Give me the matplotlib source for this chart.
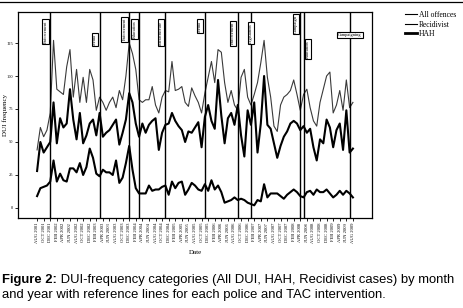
import numpy as np
import pandas as pd
import matplotlib
matplotlib.use("Agg")
import matplotlib.pyplot as plt
from matplotlib.lines import Line2D

# monthly counts, AUG 2001 .. AUG 2009
all_offences = [44, 61, 54, 59, 72, 127, 90, 88, 86, 107, 120, 84, 105, 80, 99, 80, 105, 97, 74, 84,
                80, 74, 80, 84, 76, 89, 82, 100, 125, 117, 105, 82, 80, 82, 82, 92, 78, 72,
                84, 89, 88, 111, 89, 90, 92, 80, 77, 91, 85, 80, 72, 87, 99, 111, 95, 120, 118, 95,
                80, 89, 78, 74, 99, 105, 84, 78, 86, 95, 110, 127, 99, 84, 62, 58, 78, 84, 86, 89,
                97, 86, 74, 86, 90, 76, 66, 62, 80, 90, 100, 103, 72, 78, 89, 74, 97, 76, 80]
recidivist = [28, 50, 42, 46, 50, 80, 49, 68, 61, 64, 90, 67, 52, 72, 49, 55, 64, 67, 55, 72,
              54, 57, 59, 63, 67, 48, 57, 67, 87, 80, 64, 54, 64, 57, 63, 66, 68, 44,
              57, 63, 64, 72, 66, 62, 59, 50, 58, 57, 61, 65, 46, 69, 78, 66, 60, 97, 70, 49,
              68, 72, 63, 78, 55, 39, 74, 63, 80, 42, 64, 100, 63, 60, 49, 38, 47, 54, 58, 64,
              66, 64, 59, 62, 57, 60, 46, 36, 52, 49, 67, 61, 46, 59, 64, 44, 74, 42, 45]
hah = [9, 15, 16, 17, 20, 36, 20, 26, 21, 20, 30, 30, 27, 34, 25, 31, 45, 38, 26, 24,
       29, 27, 27, 25, 36, 19, 23, 34, 47, 29, 15, 11, 11, 11, 17, 13, 14, 14,
       16, 17, 10, 20, 15, 19, 20, 10, 14, 19, 17, 14, 13, 18, 13, 21, 14, 17, 12, 4,
       5, 6, 8, 6, 7, 6, 4, 3, 2, 6, 5, 18, 8, 11, 11, 11, 9, 7, 10, 12,
       14, 12, 9, 8, 12, 13, 10, 14, 12, 12, 14, 11, 8, 10, 13, 10, 13, 11, 8]

months = pd.date_range("2001-08-01", "2009-08-01", freq="MS")
month_labels = [d.strftime("%b %Y").upper() for d in months]

# intervention reference lines (month index) and their labels
ref_months = [4, 19, 28, 31, 39, 51, 61, 65, 80, 81, 95]
ref_labels = ["Enforcement", "Media", "Enforcement", "Education", "Infrastructure", "Media",
              "Enforcement", "Legislation", "Campaign", "Education", "Campaigning"]

serif = "Liberation Serif"

fig = plt.figure(figsize=(4.63, 3.08), dpi=100)
ax = fig.add_axes([18 / 463, 1 - 218 / 308, (372 - 18) / 463, (218 - 12) / 308])

x = np.arange(len(months))
ax.plot(x, all_offences, color="#3a3a3a", lw=0.8, label="All offences")
ax.plot(x, recidivist, color="black", lw=1.5, label="Recidivist")
ax.plot(x, hah, color="black", lw=1.5, label="HAH")

ax.set_xlim(-5.8, 101.8)
ax.set_ylim(-7.6, 148.5)

# reference lines + boxed labels
box = dict(boxstyle="square,pad=0.25", fc="white", ec="black", lw=0.8)
top_y = [142, 132, 144, 142, 142, 142, 141, 140, 146, 127, 131]
for m, lab, ty in zip(ref_months, ref_labels, top_y):
    ax.axvline(m, color="black", lw=1.0)
    if lab == "Campaigning":
        ax.text(m, ty, lab, ha="center", va="center", fontsize=3.2, family=serif, bbox=box)
    elif m == 65:
        ax.text(m, ty, lab, rotation=90, ha="center", va="top", fontsize=3.2, family=serif, bbox=box)
    elif m == 81:
        ax.text(m + 0.8, ty, lab, rotation=90, ha="left", va="top", fontsize=3.2, family=serif, bbox=box)
    else:
        ax.text(m - 0.8, ty, lab, rotation=90, ha="right", va="top", fontsize=3.2, family=serif, bbox=box)

ax.set_xticks(x[::2])
ax.set_xticklabels(month_labels[::2], rotation=90, fontsize=3.3, family=serif)
ax.set_yticks([0, 25, 50, 75, 100, 125])
ax.set_yticklabels(["0", "25", "50", "75", "100", "125"], fontsize=3.2, family=serif)
ax.tick_params(length=2, width=0.6, pad=1.5)
for s in ax.spines.values():
    s.set_linewidth(0.9)

ax.set_xlabel("Date", fontsize=5, family=serif, labelpad=5)
ax.set_ylabel("DUI frequency", fontsize=5, family=serif)
ax.yaxis.set_label_coords(-10 / 354, 0.5)

leg = fig.legend(loc="upper left", bbox_to_anchor=(405 / 463, 1 - 11 / 308), frameon=False,
                 prop={"family": serif, "size": 5.5}, handlelength=1.6, handletextpad=0.2,
                 labelspacing=0.2, borderpad=0, borderaxespad=0)
for h, w in zip(leg.get_lines(), [0.8, 0.8, 2.0]):
    h.set_linewidth(w)
    h.set_color("black")

# frame line at top of the figure
fig.add_artist(Line2D([0, 1], [1 - 2 / 308, 1 - 2 / 308], transform=fig.transFigure,
                      color="black", lw=0.9))

# caption
cap_font = "Liberation Sans"
t1 = fig.text(2 / 463, 1 - 286 / 308, "Figure 2:", fontsize=9.4, fontweight="bold",
              family=cap_font, va="bottom", ha="left")
ax.annotate(" DUI-frequency categories (All DUI, HAH, Recidivist cases) by month",
            xy=(1, 0), xycoords=t1, va="bottom", ha="left", fontsize=9.4, family=cap_font,
            annotation_clip=False)
fig.text(2 / 463, 1 - 301 / 308, "and year with reference lines for each police and TAC intervention.",
         fontsize=9.4, family=cap_font, va="bottom", ha="left")

fig.savefig("out.png", dpi=100)
